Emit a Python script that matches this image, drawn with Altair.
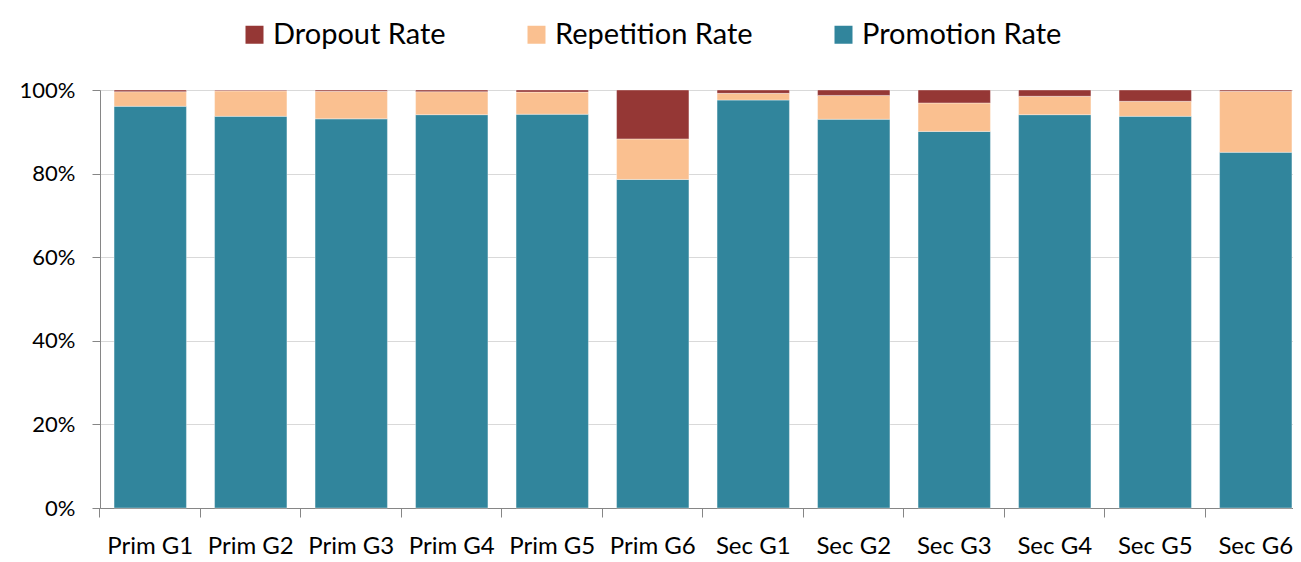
import altair as alt
import pandas as pd

categories = ["Prim G1", "Prim G2", "Prim G3", "Prim G4", "Prim G5", "Prim G6",
              "Sec G1", "Sec G2", "Sec G3", "Sec G4", "Sec G5", "Sec G6"]
promotion = [96.1, 93.7, 93.1, 94.1, 94.2, 78.6, 97.6, 93.0, 90.1, 94.1, 93.7, 85.1]
repetition = [3.5, 6.1, 6.6, 5.5, 5.3, 9.7, 1.6, 5.7, 6.8, 4.4, 3.6, 14.6]
dropout = [0.4, 0.2, 0.3, 0.4, 0.5, 11.7, 0.8, 1.3, 3.1, 1.5, 2.7, 0.3]

series = ["Dropout Rate", "Repetition Rate", "Promotion Rate"]
colors = ["#953735", "#FAC090", "#31859C"]
stack_order = {"Promotion Rate": 0, "Repetition Rate": 1, "Dropout Rate": 2}

rows = []
for i, c in enumerate(categories):
    for name, vals in (("Promotion Rate", promotion), ("Repetition Rate", repetition), ("Dropout Rate", dropout)):
        rows.append({"grade": c, "series": name, "value": vals[i], "ord": stack_order[name]})
df = pd.DataFrame(rows)

FONT = "Lato"
PAD_IN = 0.28
xscale = alt.Scale(paddingInner=PAD_IN, paddingOuter=PAD_IN / 2, range=[0, 1206])
yscale = alt.Scale(domain=[0, 1])
yaxis = alt.Axis(format=".0%", values=[0, 0.2, 0.4, 0.6, 0.8, 1.0],
                 tickSize=8, labelPadding=17, labelFontSize=22,
                 labelColor="#000000", labelFont=FONT,
                 domainColor="#868686", tickColor="#868686",
                 gridColor="#D9D9D9", gridWidth=1.2)

bars = alt.Chart(df).mark_bar(stroke="#ffffff", strokeWidth=0.6, strokeOpacity=0.6).encode(
    x=alt.X("grade:N", sort=categories, title=None, scale=xscale,
            axis=alt.Axis(orient="bottom", labelAngle=0, ticks=False, labelPadding=26,
                          labelFontSize=24, labelColor="#000000", labelFont=FONT,
                          domainColor="#868686", grid=False)),
    y=alt.Y("value:Q", stack="normalize", title=None, scale=yscale, axis=yaxis),
    color=alt.Color("series:N", sort=series,
                    scale=alt.Scale(domain=series, range=colors),
                    legend=alt.Legend(title=None, orient="none", legendX=140, legendY=-70,
                                      direction="horizontal",
                                      symbolType="square", symbolSize=324, symbolStrokeWidth=0,
                                      labelFontSize=29, labelFont=FONT, labelColor="#000000",
                                      labelLimit=0, columnPadding=76, labelOffset=4)),
    order=alt.Order("ord:Q", sort="ascending"),
)

ticks = alt.Chart(df).mark_bar(opacity=0).encode(
    x=alt.X("grade:N", sort=categories, title=None, scale=xscale,
            axis=alt.Axis(orient="bottom", labels=False, ticks=True, domain=False, grid=False,
                          tickSize=9, tickColor="#868686",
                          bandPosition=-(PAD_IN / 2) / (1 - PAD_IN))),
    y=alt.Y("value:Q", stack="normalize", title=None, scale=yscale, axis=yaxis),
)

chart = alt.layer(bars, ticks).resolve_axis(x="independent", y="shared").properties(
    width=1193, height=418,
    autosize=alt.AutoSizeParams(type="none"),
    padding={"left": 92, "top": 82, "right": 0, "bottom": 49},
).configure_view(stroke=None).configure(font=FONT)

chart.save("out.html", embed_options={"renderer": "svg", "actions": False})
